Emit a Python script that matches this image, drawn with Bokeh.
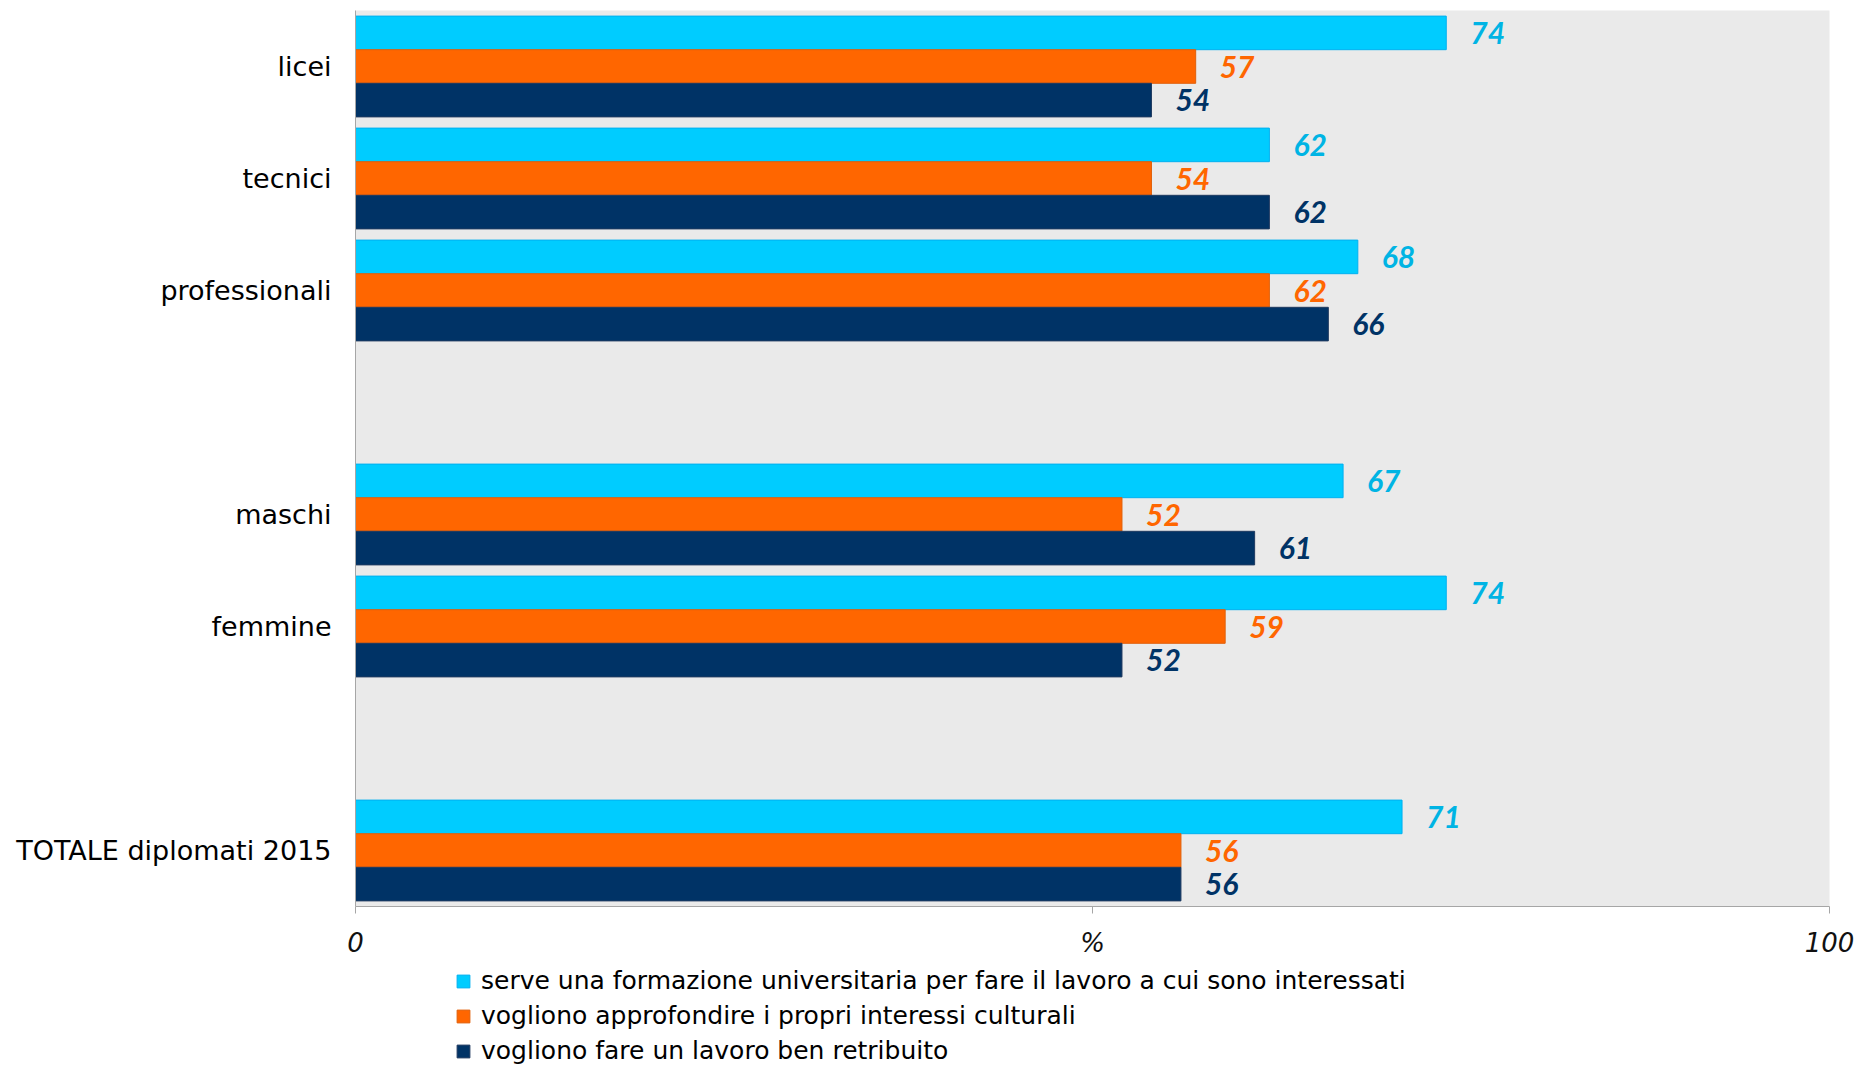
from bokeh.plotting import figure
from bokeh.models import ColumnDataSource, FactorRange, Range1d, FixedTicker, Legend, LegendItem
from bokeh.layouts import column
from bokeh.transform import dodge
from bokeh.core.properties import value
from bokeh.embed import file_html
from bokeh.resources import INLINE

# ---- data ----
categories = ["licei", "tecnici", "professionali", "maschi", "femmine", "TOTALE diplomati 2015"]
formazione_universitaria = [74, 62, 68, 67, 74, 71]
interessi_culturali = [57, 54, 62, 52, 59, 56]
lavoro_retribuito = [54, 62, 66, 61, 52, 56]
series_names = [
    "serve una formazione universitaria per fare il lavoro a cui sono interessati",
    "vogliono approfondire i propri interessi culturali",
    "vogliono fare un lavoro ben retribuito",
]
x_ticks = [0, 50, 100]
x_tick_labels = {0: "0", 50: "%", 100: "100"}

# factor order on the axis (bottom to top), with blank spacer slots
axis_factors = ["TOTALE diplomati 2015", "  ", "femmine", "maschi", " ", "professionali", "tecnici", "licei"]

fills = ["#00CCFF", "#FF6600", "#003366"]
outlines = ["#00B0F0", "#E0600A", "#1F3A60"]
label_colors = ["#00B4E4", "#FF6600", "#003366"]
offsets = [0.3, 0.0, -0.3]

p = figure(
    width=1856, height=960,
    y_range=FactorRange(factors=axis_factors, range_padding=0),
    x_range=Range1d(0, 100),
    output_backend="svg", toolbar_location=None,
    min_border_left=355, min_border_right=27, min_border_top=10, min_border_bottom=53,
)
p.background_fill_color = "#EAEAEA"
p.border_fill_color = "white"
p.outline_line_color = None
p.grid.grid_line_color = None

for vals, fill, line, lc, off in zip(
    [formazione_universitaria, interessi_culturali, lavoro_retribuito], fills, outlines, label_colors, offsets
):
    src = ColumnDataSource(dict(cat=categories, v=vals, lbl=[str(v) for v in vals]))
    p.hbar(y=dodge("cat", off, range=p.y_range), left=0, right="v", height=0.3,
           fill_color=fill, line_color=line, line_width=1, source=src)
    p.text(x="v", y=dodge("cat", off, range=p.y_range), text="lbl", source=src,
           x_offset=24, text_baseline="middle", text_align="left",
           text_font=value("Lato"), text_font_style="bold italic",
           text_font_size="30px", text_color=lc)

# x axis
xa = p.xaxis[0]
xa.ticker = FixedTicker(ticks=x_ticks)
xa.major_label_overrides = x_tick_labels
xa.major_label_text_font = "DejaVu Sans"
xa.major_label_text_font_style = "italic"
xa.major_label_text_font_size = "26px"
xa.major_label_text_color = "#111111"
xa.axis_line_color = "#A6A6A6"
xa.major_tick_line_color = "#A6A6A6"
xa.major_tick_out = 7
xa.major_tick_in = 0
xa.minor_tick_line_color = None
xa.major_label_standoff = 14

# y axis
ya = p.yaxis[0]
ya.major_label_text_font = "DejaVu Sans"
ya.major_label_text_font_size = "27px"
ya.major_label_text_color = "#000000"
ya.axis_line_color = "#A6A6A6"
ya.major_tick_line_color = None
ya.minor_tick_line_color = None
ya.major_label_standoff = 18

# ---- legend strip below the chart ----
lg = figure(
    width=1856, height=106, x_range=Range1d(0, 1), y_range=Range1d(0, 1),
    output_backend="svg", toolbar_location=None,
    min_border=0, min_border_left=0, min_border_right=0, min_border_top=0, min_border_bottom=0,
)
lg.axis.visible = False
lg.grid.grid_line_color = None
lg.outline_line_color = None
lg.background_fill_color = "white"
lg.border_fill_color = "white"

leg_renderers = []
for fill, line in zip(fills, outlines):
    r = lg.rect(x=[5], y=[5], width=[0.1], height=[0.1], fill_color=fill, line_color=line)
    leg_renderers.append(r)

legend = Legend(
    items=[LegendItem(label=n, renderers=[r]) for n, r in zip(series_names, leg_renderers)],
    location=(100, -2), orientation="vertical",
    glyph_width=16, glyph_height=16, label_standoff=10,
    label_height=35, spacing=0, padding=0, margin=0,
    label_text_font="DejaVu Sans", label_text_font_size="25px", label_text_color="#000000",
    background_fill_alpha=0, border_line_color=None,
)
lg.add_layout(legend, "center")

layout = column(p, lg, spacing=0)
open("out.html", "w").write(file_html(layout, INLINE))
